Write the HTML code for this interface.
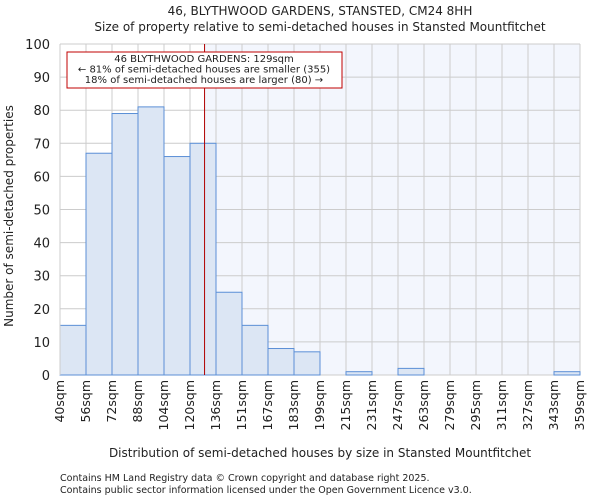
<!DOCTYPE html>
<html><head><meta charset="utf-8"><style>
body{margin:0;background:#fff;font-family:"DejaVu Sans","Liberation Sans",sans-serif;}
svg text{font-family:"DejaVu Sans","Liberation Sans",sans-serif;fill:#222;}
</style></head><body>
<svg id="chart" width="600" height="500" xmlns="http://www.w3.org/2000/svg">
<text x="320" y="15" font-size="12" text-anchor="middle">46, BLYTHWOOD GARDENS, STANSTED, CM24 8HH</text>
<text x="320" y="31" font-size="12" text-anchor="middle">Size of property relative to semi-detached houses in Stansted Mountfitchet</text>
<g id="plot"></g>
<text x="320" y="457" font-size="12" text-anchor="middle">Distribution of semi-detached houses by size in Stansted Mountfitchet</text>
<text transform="translate(13,216) rotate(-90)" font-size="12" text-anchor="middle">Number of semi-detached properties</text>
<text x="60" y="481" font-size="9.5">Contains HM Land Registry data © Crown copyright and database right 2025.</text>
<text x="60" y="493" font-size="9.5">Contains public sector information licensed under the Open Government Licence v3.0.</text>
</svg>
<script>
const binLabels=["40sqm","56sqm","72sqm","88sqm","104sqm","120sqm","136sqm","151sqm","167sqm","183sqm","199sqm","215sqm","231sqm","247sqm","263sqm","279sqm","295sqm","311sqm","327sqm","343sqm","359sqm"];
const counts=[15,67,79,81,66,70,25,15,8,7,0,1,0,2,0,0,0,0,0,1];
const yTicks=[0,10,20,30,40,50,60,70,80,90,100];
const propertyBinPos=5.56;
const annotation=["46 BLYTHWOOD GARDENS: 129sqm","← 81% of semi-detached houses are smaller (355)","18% of semi-detached houses are larger (80) →"];
const NS="http://www.w3.org/2000/svg";
const L=60,R=580,T=44,B=375,yMax=100;
const n=counts.length,bw=(R-L)/n;
const x=i=>L+i*bw, y=v=>B-(v/yMax)*(B-T);
const g=document.getElementById('plot');
function mk(t,a){const e=document.createElementNS(NS,t);for(const k in a)e.setAttribute(k,a[k]);g.appendChild(e);return e;}
let e;
e=mk('rect',{x:x(propertyBinPos),y:T,width:R-x(propertyBinPos),height:B-T,fill:'#f3f6fd'});


yTicks.forEach(t=>{
 e=mk('line',{x1:L,x2:R,y1:y(t),y2:y(t),stroke:'#cccccc','stroke-width':1});
 
 
 e=mk('text',{x:L-10,y:y(t)+5,'font-size':13,'text-anchor':'end'});e.textContent=t;
 
 
});
for(let i=0;i<=n;i++){
 e=mk('line',{x1:x(i),x2:x(i),y1:T,y2:B,stroke:'#cccccc','stroke-width':1});
 
 
}
counts.forEach((c,i)=>{
 if(c<=0)return;
 e=mk('rect',{x:x(i),y:y(c),width:bw,height:B-y(c),fill:'#dce6f4',stroke:'#5b8fd6','stroke-width':1});
 
 
});
binLabels.forEach((lb,i)=>{
 const xx=x(i)+4;
 e=mk('text',{x:xx,y:380,'font-size':12.5,'text-anchor':'end',transform:`rotate(-90 ${xx} 380)`});e.textContent=lb;
 
 
});
e=mk('line',{x1:L,x2:L,y1:T,y2:B,stroke:'#cccccc'});


const px=x(propertyBinPos);
e=mk('line',{x1:px,x2:px,y1:T,y2:B,stroke:'#b00000','stroke-width':1});


e=mk('rect',{x:67,y:52,width:275,height:36,fill:'#fff',stroke:'#c00000','stroke-width':1});


annotation.forEach((s,i)=>{
 e=mk('text',{x:204,y:62+i*10.5,'font-size':10,'text-anchor':'middle'});e.textContent=s;
 
 
});
</script>
</body></html>
